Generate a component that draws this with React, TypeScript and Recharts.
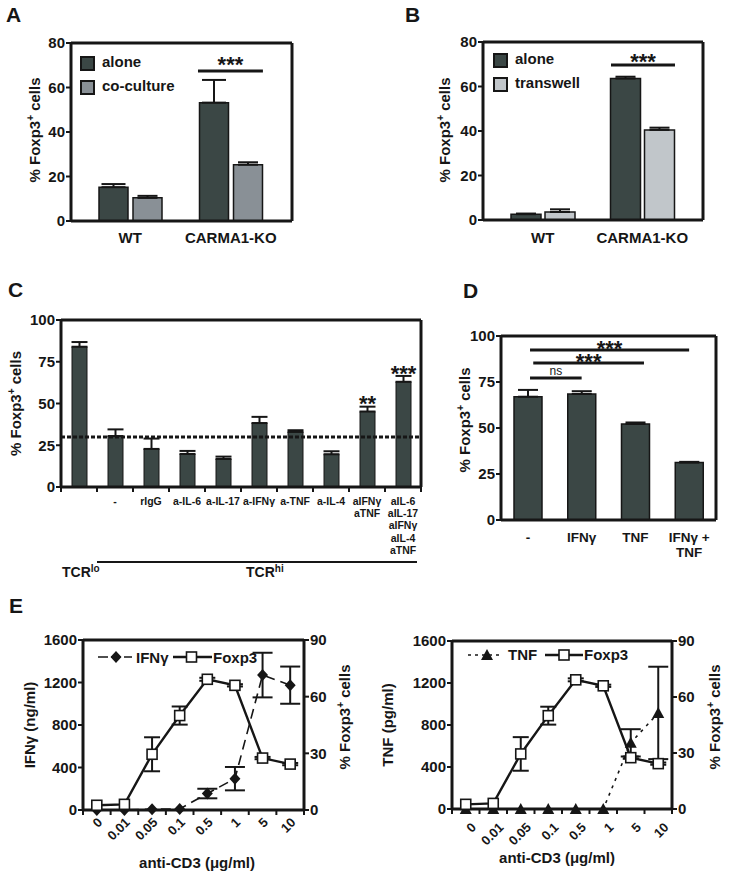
import React from 'react';
import {
  BarChart,
  Bar,
  XAxis,
  YAxis,
  ErrorBar,
  ReferenceLine,
  Legend,
  LabelList,
  ComposedChart,
  Line,
} from 'recharts';

const FONT = '"Liberation Sans", Arial, Helvetica, sans-serif';
const INK = '#161616';
const DARK = '#3b4745';
const MID = '#899096';
const LIGHT = '#c1c6ca';

// ---------------- Panel A ----------------
const aCategories = ['WT', 'CARMA1-KO'];
const aPositions = [0.5, 1.5];
const aAlone = [15.2, 53.2];
const aAloneErr = [1.4, 10.2];
const aCoculture = [10.4, 25.3];
const aCocultureErr = [0.9, 1.1];
const aYTicks = [0, 20, 40, 60, 80];
const aSig = { from: 1.174, to: 1.82, y: 67.4, text: '***' };

// ---------------- Panel B ----------------
const bCategories = ['WT', 'CARMA1-KO'];
const bPositions = [0.5, 1.5];
const bAlone = [2.6, 63.6];
const bAloneErr = [0.3, 0.8];
const bTranswell = [3.6, 40.5];
const bTranswellErr = [1.2, 1.0];
const bYTicks = [0, 20, 40, 60, 80];
const bSig = { from: 1.186, to: 1.829, y: 69.7, text: '***' };

// ---------------- Panel C ----------------
const cCategories = ['TCRlo', 'none', 'rIgG', 'a-IL-6', 'a-IL-17', 'a-IFNγ', 'a-TNF', 'a-IL-4', 'aIFNγ aTNF', 'all'];
const cTickLines = [
  [],
  ['-'],
  ['rIgG'],
  ['a-IL-6'],
  ['a-IL-17'],
  ['a-IFNγ'],
  ['a-TNF'],
  ['a-IL-4'],
  ['aIFNγ', 'aTNF'],
  ['aIL-6', 'aIL-17', 'aIFNγ', 'aIL-4', 'aTNF'],
];
const cValues = [84, 30.5, 22.8, 19.8, 16.8, 38.3, 33, 19.6, 45.2, 63];
const cErr = [2.8, 4, 6.2, 1.8, 1.4, 3.7, 1, 1.8, 2.9, 3.5];
const cStars = ['', '', '', '', '', '', '', '', '**', '***'];
const cControlLevel = 30;
const cYTicks = [0, 25, 50, 75, 100];

// ---------------- Panel D ----------------
const dCategories = ['-', 'IFNγ', 'TNF', 'IFNγ + TNF'];
const dPositions = [0.5, 1.5, 2.5, 3.5];
const dTickLines = [['-'], ['IFNγ'], ['TNF'], ['IFNγ +', 'TNF']];
const dValues = [67, 68.5, 52.2, 31.2];
const dErr = [3.7, 1.5, 0.8, 0.4];
const dYTicks = [0, 25, 50, 75, 100];
const dComparisons = [
  { from: 0.54, to: 3.5, y: 92.4, text: '***' },
  { from: 0.6, to: 2.66, y: 85.3, text: '***' },
  { from: 0.54, to: 1.5, y: 77.2, text: 'ns' },
];

// ---------------- Panel E ----------------
const eDoses = ['0', '0.01', '0.05', '0.1', '0.5', '1', '5', '10'];
const eIfng = [0, 0, 8, 10, 155, 295, 1270, 1175];
const eIfngErr = [null, null, null, null, 45, 110, 210, 175];
const eTnf = [0, 0, 0, 0, 0, 0, 630, 915];
const eTnfErr = [null, null, null, null, null, null, 130, 440];
const eFoxp3 = [2.5, 3, 29.5, 50, 69.2, 66, 27.5, 24.3];
const eFoxp3Err = [null, null, 9, 4.8, 0.8, 0.6, 0.6, 0.6];
const eLeftTicks = [0, 400, 800, 1200, 1600];
const eRightTicks = [0, 30, 60, 90];

// ---------------- rows ----------------
const aRows = aCategories.map((cat, i) => ({
  cat,
  pos: aPositions[i],
  alone: aAlone[i],
  aloneErr: [0, aAloneErr[i]],
  other: aCoculture[i],
  otherErr: [0, aCocultureErr[i]],
}));
const bRows = bCategories.map((cat, i) => ({
  cat,
  pos: bPositions[i],
  alone: bAlone[i],
  aloneErr: [0, bAloneErr[i]],
  other: bTranswell[i],
  otherErr: [0, bTranswellErr[i]],
}));
const cRows = cCategories.map((cat, i) => ({
  cat,
  value: cValues[i],
  err: [0, cErr[i]],
  stars: cStars[i],
}));
const dRows = dCategories.map((cat, i) => ({ cat, pos: dPositions[i], value: dValues[i], err: [0, dErr[i]] }));
const eLeftRows = eDoses.map((dose, i) => ({
  dose,
  cyto: eIfng[i],
  cytoErr: eIfngErr[i],
  foxp3: eFoxp3[i],
  foxp3Err: eFoxp3Err[i],
}));
const eRightRows = eDoses.map((dose, i) => ({
  dose,
  cyto: eTnf[i],
  cytoErr: eTnfErr[i],
  foxp3: eFoxp3[i],
  foxp3Err: eFoxp3Err[i],
}));

// ---------------- styles / helpers ----------------
const axisLine = { stroke: INK, strokeWidth: 3 };
const yTickLine = { stroke: INK, strokeWidth: 2 };
const tickFont = { fill: INK, fontSize: 15, fontWeight: 700, fontFamily: FONT };

const foxp3Title = [
  <tspan key="a">% Foxp3</tspan>,
  <tspan key="b" dy={-6} fontSize={10}>+</tspan>,
  <tspan key="c" dy={6}>{'\u00a0cells'}</tspan>,
];

function rotLabel(content: React.ReactNode, dx: number, dy = 0) {
  return (props: any) => {
    const vb = props.viewBox || { x: 0, y: 0, width: 0, height: 0 };
    const cx = vb.x + dx;
    const cy = vb.y + vb.height / 2 + dy;
    return (
      <text
        x={cx}
        y={cy}
        dy="0.36em"
        transform={`rotate(-90 ${cx} ${cy})`}
        textAnchor="middle"
        fill={INK}
        fontSize={15}
        fontWeight={700}
        fontFamily={FONT}
      >
        {content}
      </text>
    );
  };
}

function xTitle(text: string, dx: number, dy: number) {
  return (props: any) => {
    const vb = props.viewBox || { x: 0, y: 0, width: 0, height: 0 };
    const cx = vb.x + vb.width / 2 + dx;
    const cy = vb.y + dy;
    return (
      <text x={cx} y={cy} dy="0.35em" textAnchor="middle" fill={INK} fontSize={15} fontWeight={700} fontFamily={FONT}>
        {text}
      </text>
    );
  };
}

function linesTick(lines: string[][], baseDy: number, lineH: number, fontSize: number, edgeTicks: boolean) {
  return (props: any) => {
    const { x, y, payload, index, visibleTicksCount } = props;
    const off = payload && typeof payload.offset === 'number' ? payload.offset : 0;
    const isLast = index === visibleTicksCount - 1;
    const ls = lines[index] || [];
    return (
      <g>
        {edgeTicks && <line x1={x - off} x2={x - off} y1={y} y2={y + 5} stroke={INK} strokeWidth={2} />}
        {edgeTicks && isLast && <line x1={x + off} x2={x + off} y1={y} y2={y + 5} stroke={INK} strokeWidth={2} />}
        <text x={x} y={y + baseDy} textAnchor="middle" fill={INK} fontSize={fontSize} fontWeight={700} fontFamily={FONT}>
          {ls.map((l, i) => (
            <tspan key={i} x={x} dy={i === 0 ? 0 : lineH}>
              {l}
            </tspan>
          ))}
        </text>
      </g>
    );
  };
}

function doseTick(dxText: number, dyText: number) {
  return (props: any) => {
    const { x, y, payload, index, visibleTicksCount } = props;
    const off = payload && typeof payload.offset === 'number' ? payload.offset : 0;
    const isLast = index === visibleTicksCount - 1;
    const tx = x + dxText;
    const ty = y + dyText;
    return (
      <g>
        <line x1={x - off} x2={x - off} y1={y} y2={y + 5} stroke={INK} strokeWidth={2} />
        {isLast && <line x1={x + off} x2={x + off} y1={y} y2={y + 5} stroke={INK} strokeWidth={2} />}
        <text
          x={tx}
          y={ty}
          dy="0.35em"
          textAnchor="end"
          transform={`rotate(-45 ${tx} ${ty})`}
          fill={INK}
          fontSize={13}
          fontWeight={700}
          fontFamily={FONT}
        >
          {payload.value}
        </text>
      </g>
    );
  };
}

function swatchLegend(items: { label: string; color: string }[]) {
  return () => (
    <svg width={130} height={items.length * 24 + 4} style={{ display: 'block', overflow: 'visible' }}>
      {items.map((it, i) => (
        <g key={i}>
          <rect x={1} y={2 + i * 24} width={13} height={13} fill={it.color} stroke={INK} strokeWidth={2} />
          <text x={22} y={12 + i * 24} fill={INK} fontSize={15} fontWeight={700} fontFamily={FONT}>
            {it.label}
          </text>
        </g>
      ))}
    </svg>
  );
}

const diamondDot = (p: any) => {
  const { cx, cy, index } = p;
  if (cx == null || cy == null) return <g key={index} />;
  return <path key={index} d={`M${cx} ${cy - 6}L${cx + 5.5} ${cy}L${cx} ${cy + 6}L${cx - 5.5} ${cy}Z`} fill={INK} />;
};
const triangleDot = (p: any) => {
  const { cx, cy, index } = p;
  if (cx == null || cy == null) return <g key={index} />;
  return <path key={index} d={`M${cx} ${cy - 6}L${cx + 6} ${cy + 5}L${cx - 6} ${cy + 5}Z`} fill={INK} />;
};
const squareDot = (p: any) => {
  const { cx, cy, index } = p;
  if (cx == null || cy == null) return <g key={index} />;
  return <rect key={index} x={cx - 5} y={cy - 5} width={10} height={10} fill="#fff" stroke={INK} strokeWidth={1.6} />;
};

function lineLegend(kind: 'ifng' | 'tnf') {
  return () => (
    <svg width={180} height={20} style={{ display: 'block', overflow: 'visible' }}>
      {kind === 'ifng' ? (
        <g>
          <line x1={3} x2={37} y1={10} y2={10} stroke={INK} strokeWidth={1.6} strokeDasharray="10 3" />
          <path d="M21 4L26.5 10L21 16L15.5 10Z" fill={INK} />
          <text x={41} y={15.5} fill={INK} fontSize={15} fontWeight={700} fontFamily={FONT}>IFNγ</text>
          <line x1={78} x2={117} y1={10} y2={10} stroke={INK} strokeWidth={2.4} />
          <rect x={91.5} y={5} width={10} height={10} fill="#fff" stroke={INK} strokeWidth={1.6} />
          <text x={118} y={15.5} fill={INK} fontSize={15} fontWeight={700} fontFamily={FONT}>Foxp3</text>
        </g>
      ) : (
        <g>
          <line x1={5} x2={40} y1={10} y2={10} stroke={INK} strokeWidth={1.6} strokeDasharray="3 4" />
          <path d="M24 4L30 15L18 15Z" fill={INK} />
          <text x={45} y={15} fill={INK} fontSize={15} fontWeight={700} fontFamily={FONT}>TNF</text>
          <line x1={82} x2={120} y1={10} y2={10} stroke={INK} strokeWidth={2.4} />
          <rect x={96} y={5} width={10} height={10} fill="#fff" stroke={INK} strokeWidth={1.6} />
          <text x={121} y={15} fill={INK} fontSize={15} fontWeight={700} fontFamily={FONT}>Foxp3</text>
        </g>
      )}
    </svg>
  );
}

function frameTop(key: string) {
  return <XAxis xAxisId={key} orientation="top" dataKey={key === 'topDose' ? 'dose' : 'cat'} height={1} tick={false} tickLine={false} axisLine={axisLine} />;
}

function PanelA() {
  return (
    <BarChart width={305} height={265} data={aRows} margin={{ top: 42, right: 12, bottom: 14, left: 0 }} barGap={5}>
      <XAxis
        dataKey="cat"
        interval={0}
        height={30}
        padding={{ left: 9, right: 11 }}
        axisLine={axisLine}
        tickLine={false}
        tickSize={0}
        tickMargin={0}
        tick={linesTick([['WT'], ['CARMA1-KO']], 22, 0, 15, false)}
      />
      {frameTop('top')}
      <XAxis xAxisId="n" dataKey="pos" type="number" scale="linear" domain={[0, 2]} hide allowDataOverflow padding={{ left: 9, right: 11 }} />
      <YAxis
        domain={[0, 80]}
        ticks={aYTicks}
        width={71}
        axisLine={axisLine}
        tickLine={yTickLine}
        tickSize={5}
        tickMargin={1}
        tick={tickFont}
        label={rotLabel(foxp3Title, 35, -2)}
      />
      <YAxis yAxisId="right" orientation="right" width={1} domain={[0, 80]} tick={false} tickLine={false} axisLine={axisLine} />
      <Bar dataKey="alone" name="alone" fill={DARK} stroke={INK} strokeWidth={1.5} barSize={29} isAnimationActive={false}>
        <ErrorBar dataKey="aloneErr" width={12} strokeWidth={2} stroke={INK} direction="y" />
      </Bar>
      <Bar dataKey="other" name="co-culture" fill={MID} stroke={INK} strokeWidth={1.5} barSize={29} isAnimationActive={false}>
        <ErrorBar dataKey="otherErr" width={10} strokeWidth={2} stroke={INK} direction="y" />
      </Bar>
      <ReferenceLine
        xAxisId="n"
        ifOverflow="visible"
        segment={[{ x: aSig.from, y: aSig.y }, { x: aSig.to, y: aSig.y }]}
        stroke={INK}
        strokeWidth={3}
        label={{ value: aSig.text, position: 'top', offset: -1, fill: INK, fontSize: 22, fontWeight: 700, fontFamily: FONT }}
      />
      <Legend
        layout="horizontal"
        align="center"
        verticalAlign="middle"
        wrapperStyle={{ top: 55, left: 80, width: 130, height: 52 }}
        content={swatchLegend([
          { label: 'alone', color: DARK },
          { label: 'co-culture', color: MID },
        ])}
      />
    </BarChart>
  );
}

function PanelB() {
  return (
    <BarChart width={300} height={265} data={bRows} margin={{ top: 41, right: 9, bottom: 15, left: 0 }} barGap={4}>
      <XAxis
        dataKey="cat"
        interval={0}
        height={30}
        padding={{ left: 10, right: 11 }}
        axisLine={axisLine}
        tickLine={false}
        tickSize={0}
        tickMargin={0}
        tick={linesTick([['WT'], ['CARMA1-KO']], 23, 0, 15, false)}
      />
      {frameTop('top')}
      <XAxis xAxisId="n" dataKey="pos" type="number" scale="linear" domain={[0, 2]} hide allowDataOverflow padding={{ left: 10, right: 11 }} />
      <YAxis
        domain={[0, 80]}
        ticks={bYTicks}
        width={70}
        axisLine={axisLine}
        tickLine={yTickLine}
        tickSize={5}
        tickMargin={1}
        tick={tickFont}
        label={rotLabel(foxp3Title, 32, -1)}
      />
      <YAxis yAxisId="right" orientation="right" width={1} domain={[0, 80]} tick={false} tickLine={false} axisLine={axisLine} />
      <Bar dataKey="alone" name="alone" fill={DARK} stroke={INK} strokeWidth={1.5} barSize={30} isAnimationActive={false}>
        <ErrorBar dataKey="aloneErr" width={10} strokeWidth={2} stroke={INK} direction="y" />
      </Bar>
      <Bar dataKey="other" name="transwell" fill={LIGHT} stroke={INK} strokeWidth={1.5} barSize={30} isAnimationActive={false}>
        <ErrorBar dataKey="otherErr" width={10} strokeWidth={2} stroke={INK} direction="y" />
      </Bar>
      <ReferenceLine
        xAxisId="n"
        ifOverflow="visible"
        segment={[{ x: bSig.from, y: bSig.y }, { x: bSig.to, y: bSig.y }]}
        stroke={INK}
        strokeWidth={3}
        label={{ value: bSig.text, position: 'top', offset: -4, fill: INK, fontSize: 22, fontWeight: 700, fontFamily: FONT }}
      />
      <Legend
        layout="horizontal"
        align="center"
        verticalAlign="middle"
        wrapperStyle={{ top: 52, left: 80, width: 130, height: 52 }}
        content={swatchLegend([
          { label: 'alone', color: DARK },
          { label: 'transwell', color: LIGHT },
        ])}
      />
    </BarChart>
  );
}

function PanelC() {
  return (
    <BarChart width={430} height={300} data={cRows} margin={{ top: 29, right: 8, bottom: 23, left: 0 }}>
      <XAxis
        dataKey="cat"
        interval={0}
        height={80}
        axisLine={axisLine}
        tickLine={false}
        tickSize={0}
        tickMargin={0}
        tick={linesTick(cTickLines, 18, 12.2, 10.5, true)}
      />
      {frameTop('top')}
      <YAxis
        domain={[0, 100]}
        ticks={cYTicks}
        width={61}
        axisLine={axisLine}
        tickLine={yTickLine}
        tickSize={5}
        tickMargin={1}
        tick={tickFont}
        label={rotLabel(foxp3Title, 16, 0)}
      />
      <YAxis yAxisId="right" orientation="right" width={1} domain={[0, 100]} tick={false} tickLine={false} axisLine={axisLine} />
      <Bar dataKey="value" fill={DARK} stroke={INK} strokeWidth={1} barSize={15} isAnimationActive={false}>
        <ErrorBar dataKey="err" width={8} strokeWidth={2} stroke={INK} direction="y" />
        <LabelList dataKey="stars" position="top" offset={1} fill={INK} fontSize={22} fontWeight={700} fontFamily={FONT} />
      </Bar>
      <ReferenceLine y={cControlLevel} stroke={INK} strokeWidth={3} strokeDasharray="4 2" />
    </BarChart>
  );
}

function PanelD() {
  return (
    <BarChart width={289} height={290} data={dRows} margin={{ top: 45, right: 12, bottom: 20, left: 0 }}>
      <XAxis
        dataKey="cat"
        interval={0}
        height={40}
        axisLine={axisLine}
        tickLine={false}
        tickSize={0}
        tickMargin={0}
        tick={linesTick(dTickLines, 22, 14.5, 13.5, false)}
      />
      {frameTop('top')}
      <XAxis xAxisId="n" dataKey="pos" type="number" scale="linear" domain={[0, 4]} hide allowDataOverflow />
      <YAxis
        domain={[0, 100]}
        ticks={dYTicks}
        width={61}
        axisLine={axisLine}
        tickLine={yTickLine}
        tickSize={5}
        tickMargin={1}
        tick={tickFont}
        label={rotLabel(foxp3Title, 25, -8)}
      />
      <YAxis yAxisId="right" orientation="right" width={1} domain={[0, 100]} tick={false} tickLine={false} axisLine={axisLine} />
      <Bar dataKey="value" fill={DARK} stroke={INK} strokeWidth={1.5} barSize={28} isAnimationActive={false}>
        <ErrorBar dataKey="err" width={10} strokeWidth={2} stroke={INK} direction="y" />
      </Bar>
      {dComparisons.map((c, i) => (
        <ReferenceLine
          key={i}
          xAxisId="n"
          ifOverflow="visible"
          segment={[{ x: c.from, y: c.y }, { x: c.to, y: c.y }]}
          stroke={INK}
          strokeWidth={3}
          label={
            c.text === 'ns'
              ? { value: c.text, position: 'top', offset: 3, fill: INK, fontSize: 12, fontWeight: 400, fontFamily: FONT }
              : { value: c.text, position: 'top', offset: -6, fill: INK, fontSize: 22, fontWeight: 700, fontFamily: FONT }
          }
        />
      ))}
    </BarChart>
  );
}

function PanelE(props: {
  rows: any[];
  kind: 'ifng' | 'tnf';
  width: number;
  top: number;
  bottom: number;
  leftW: number;
  rightW: number;
  leftTitle: string;
  leftDx: number;
  rightDx: number;
  tickDx: number;
  tickDy: number;
  titleDx: number;
  titleDy: number;
  legendPos: { top: number; left: number };
}) {
  const isIfng = props.kind === 'ifng';
  return (
    <ComposedChart
      width={props.width}
      height={276}
      data={props.rows}
      margin={{ top: props.top, right: 0, bottom: props.bottom, left: 0 }}
    >
      <XAxis
        dataKey="dose"
        scale="band"
        interval={0}
        height={50}
        axisLine={axisLine}
        tickLine={false}
        tickSize={0}
        tickMargin={0}
        tick={doseTick(props.tickDx, props.tickDy)}
        label={xTitle('anti-CD3 (μg/ml)', props.titleDx, props.titleDy)}
      />
      <XAxis xAxisId="topDose" orientation="top" dataKey="dose" scale="band" height={1} tick={false} tickLine={false} axisLine={axisLine} />
      <YAxis
        yAxisId="l"
        domain={[0, 1600]}
        ticks={eLeftTicks}
        width={props.leftW}
        axisLine={axisLine}
        tickLine={yTickLine}
        tickSize={5}
        tickMargin={1}
        tick={tickFont}
        label={rotLabel(props.leftTitle, props.leftDx, 0)}
      />
      <YAxis
        yAxisId="r"
        orientation="right"
        domain={[0, 90]}
        ticks={eRightTicks}
        width={props.rightW}
        axisLine={axisLine}
        tickLine={yTickLine}
        tickSize={5}
        tickMargin={1}
        tick={tickFont}
        label={rotLabel(foxp3Title, props.rightDx, -8)}
      />
      <Line
        yAxisId="l"
        dataKey="cyto"
        stroke={INK}
        strokeWidth={1.6}
        strokeDasharray={isIfng ? '10 6' : '3 5'}
        dot={isIfng ? diamondDot : triangleDot}
        activeDot={false}
        isAnimationActive={false}
      >
        <ErrorBar dataKey="cytoErr" width={10} strokeWidth={2} stroke={INK} direction="y" />
      </Line>
      <Line
        yAxisId="r"
        dataKey="foxp3"
        stroke={INK}
        strokeWidth={2.4}
        dot={squareDot}
        activeDot={false}
        isAnimationActive={false}
      >
        <ErrorBar dataKey="foxp3Err" width={8} strokeWidth={2} stroke={INK} direction="y" />
      </Line>
      <Legend
        layout="horizontal"
        align="center"
        verticalAlign="middle"
        wrapperStyle={{ top: props.legendPos.top, left: props.legendPos.left, width: 180, height: 20 }}
        content={lineLegend(props.kind)}
      />
    </ComposedChart>
  );
}

const letterStyle = { fill: INK, fontSize: 21, fontWeight: 700, fontFamily: FONT } as const;

export default function App() {
  const abs = (left: number, top: number): React.CSSProperties => ({ position: 'absolute', left, top });
  return (
    <div style={{ position: 'absolute', left: 0, top: 0, width: 729, height: 876, background: '#fff', overflow: 'hidden' }}>
      <div style={abs(0, 0)}>
        <PanelA />
      </div>
      <div style={abs(413, 0)}>
        <PanelB />
      </div>
      <div style={abs(0, 290)}>
        <PanelC />
      </div>
      <div style={abs(440, 290)}>
        <PanelD />
      </div>
      <div style={abs(0, 600)}>
        <PanelE
          rows={eLeftRows}
          kind="ifng"
          width={370}
          top={39}
          bottom={16}
          leftW={83}
          rightW={66}
          leftTitle="IFNγ (ng/ml)"
          leftDx={30}
          rightDx={41}
          tickDx={3}
          tickDy={10}
          titleDx={3.5}
          titleDy={53}
          legendPos={{ top: 47, left: 95 }}
        />
      </div>
      <div style={abs(370, 600)}>
        <PanelE
          rows={eRightRows}
          kind="tnf"
          width={359}
          top={40}
          bottom={17}
          leftW={82}
          rightW={57}
          leftTitle="TNF (pg/ml)"
          leftDx={18}
          rightDx={43}
          tickDx={8}
          tickDy={16}
          titleDx={-5}
          titleDy={49}
          legendPos={{ top: 45, left: 93 }}
        />
      </div>
      <svg width={729} height={876} style={{ position: 'absolute', left: 0, top: 0, pointerEvents: 'none' }}>
        <text x={6} y={22} {...letterStyle}>A</text>
        <text x={405} y={22} {...letterStyle}>B</text>
        <text x={8} y={297} {...letterStyle}>C</text>
        <text x={463} y={298} {...letterStyle}>D</text>
        <text x={9} y={613} {...letterStyle}>E</text>
        <line x1={97} x2={417} y1={562} y2={562} stroke={INK} strokeWidth={2} />
        <text x={62} y={577} fill={INK} fontSize={14} fontWeight={700} fontFamily={FONT}>
          TCR<tspan dy={-5} fontSize={10}>lo</tspan>
        </text>
        <text x={246} y={577} fill={INK} fontSize={14} fontWeight={700} fontFamily={FONT}>
          TCR<tspan dy={-5} fontSize={10}>hi</tspan>
        </text>
      </svg>
    </div>
  );
}
